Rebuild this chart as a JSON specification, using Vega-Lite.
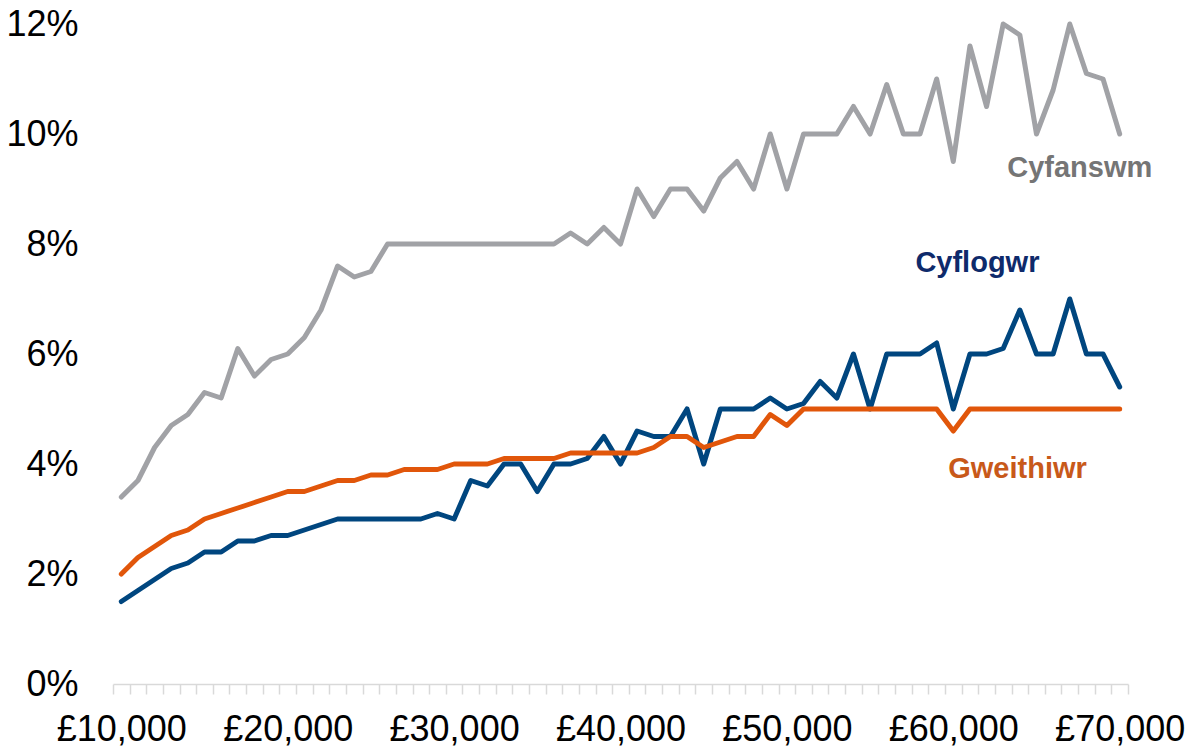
{
  "$schema": "https://vega.github.io/schema/vega-lite/v6.json",
  "autosize": {"type": "none"},
  "width": 1015,
  "height": 660,
  "padding": {"left": 113, "top": 24, "right": 67, "bottom": 63},
  "background": "white",
  "config": {
    "view": {"stroke": null},
    "font": "Liberation Sans",
    "axis": {"labelFont": "Liberation Sans", "labelColor": "#000000"}
  },
  "datasets": {
    "series": [
      {"s": 10000, "Cyfanswm": 3.4, "Cyflogwr": 1.5, "Gweithiwr": 2.0},
      {"s": 11000, "Cyfanswm": 3.7, "Cyflogwr": 1.7, "Gweithiwr": 2.3},
      {"s": 12000, "Cyfanswm": 4.3, "Cyflogwr": 1.9, "Gweithiwr": 2.5},
      {"s": 13000, "Cyfanswm": 4.7, "Cyflogwr": 2.1, "Gweithiwr": 2.7},
      {"s": 14000, "Cyfanswm": 4.9, "Cyflogwr": 2.2, "Gweithiwr": 2.8},
      {"s": 15000, "Cyfanswm": 5.3, "Cyflogwr": 2.4, "Gweithiwr": 3.0},
      {"s": 16000, "Cyfanswm": 5.2, "Cyflogwr": 2.4, "Gweithiwr": 3.1},
      {"s": 17000, "Cyfanswm": 6.1, "Cyflogwr": 2.6, "Gweithiwr": 3.2},
      {"s": 18000, "Cyfanswm": 5.6, "Cyflogwr": 2.6, "Gweithiwr": 3.3},
      {"s": 19000, "Cyfanswm": 5.9, "Cyflogwr": 2.7, "Gweithiwr": 3.4},
      {"s": 20000, "Cyfanswm": 6.0, "Cyflogwr": 2.7, "Gweithiwr": 3.5},
      {"s": 21000, "Cyfanswm": 6.3, "Cyflogwr": 2.8, "Gweithiwr": 3.5},
      {"s": 22000, "Cyfanswm": 6.8, "Cyflogwr": 2.9, "Gweithiwr": 3.6},
      {"s": 23000, "Cyfanswm": 7.6, "Cyflogwr": 3.0, "Gweithiwr": 3.7},
      {"s": 24000, "Cyfanswm": 7.4, "Cyflogwr": 3.0, "Gweithiwr": 3.7},
      {"s": 25000, "Cyfanswm": 7.5, "Cyflogwr": 3.0, "Gweithiwr": 3.8},
      {"s": 26000, "Cyfanswm": 8.0, "Cyflogwr": 3.0, "Gweithiwr": 3.8},
      {"s": 27000, "Cyfanswm": 8.0, "Cyflogwr": 3.0, "Gweithiwr": 3.9},
      {"s": 28000, "Cyfanswm": 8.0, "Cyflogwr": 3.0, "Gweithiwr": 3.9},
      {"s": 29000, "Cyfanswm": 8.0, "Cyflogwr": 3.1, "Gweithiwr": 3.9},
      {"s": 30000, "Cyfanswm": 8.0, "Cyflogwr": 3.0, "Gweithiwr": 4.0},
      {"s": 31000, "Cyfanswm": 8.0, "Cyflogwr": 3.7, "Gweithiwr": 4.0},
      {"s": 32000, "Cyfanswm": 8.0, "Cyflogwr": 3.6, "Gweithiwr": 4.0},
      {"s": 33000, "Cyfanswm": 8.0, "Cyflogwr": 4.0, "Gweithiwr": 4.1},
      {"s": 34000, "Cyfanswm": 8.0, "Cyflogwr": 4.0, "Gweithiwr": 4.1},
      {"s": 35000, "Cyfanswm": 8.0, "Cyflogwr": 3.5, "Gweithiwr": 4.1},
      {"s": 36000, "Cyfanswm": 8.0, "Cyflogwr": 4.0, "Gweithiwr": 4.1},
      {"s": 37000, "Cyfanswm": 8.2, "Cyflogwr": 4.0, "Gweithiwr": 4.2},
      {"s": 38000, "Cyfanswm": 8.0, "Cyflogwr": 4.1, "Gweithiwr": 4.2},
      {"s": 39000, "Cyfanswm": 8.3, "Cyflogwr": 4.5, "Gweithiwr": 4.2},
      {"s": 40000, "Cyfanswm": 8.0, "Cyflogwr": 4.0, "Gweithiwr": 4.2},
      {"s": 41000, "Cyfanswm": 9.0, "Cyflogwr": 4.6, "Gweithiwr": 4.2},
      {"s": 42000, "Cyfanswm": 8.5, "Cyflogwr": 4.5, "Gweithiwr": 4.3},
      {"s": 43000, "Cyfanswm": 9.0, "Cyflogwr": 4.5, "Gweithiwr": 4.5},
      {"s": 44000, "Cyfanswm": 9.0, "Cyflogwr": 5.0, "Gweithiwr": 4.5},
      {"s": 45000, "Cyfanswm": 8.6, "Cyflogwr": 4.0, "Gweithiwr": 4.3},
      {"s": 46000, "Cyfanswm": 9.2, "Cyflogwr": 5.0, "Gweithiwr": 4.4},
      {"s": 47000, "Cyfanswm": 9.5, "Cyflogwr": 5.0, "Gweithiwr": 4.5},
      {"s": 48000, "Cyfanswm": 9.0, "Cyflogwr": 5.0, "Gweithiwr": 4.5},
      {"s": 49000, "Cyfanswm": 10.0, "Cyflogwr": 5.2, "Gweithiwr": 4.9},
      {"s": 50000, "Cyfanswm": 9.0, "Cyflogwr": 5.0, "Gweithiwr": 4.7},
      {"s": 51000, "Cyfanswm": 10.0, "Cyflogwr": 5.1, "Gweithiwr": 5.0},
      {"s": 52000, "Cyfanswm": 10.0, "Cyflogwr": 5.5, "Gweithiwr": 5.0},
      {"s": 53000, "Cyfanswm": 10.0, "Cyflogwr": 5.2, "Gweithiwr": 5.0},
      {"s": 54000, "Cyfanswm": 10.5, "Cyflogwr": 6.0, "Gweithiwr": 5.0},
      {"s": 55000, "Cyfanswm": 10.0, "Cyflogwr": 5.0, "Gweithiwr": 5.0},
      {"s": 56000, "Cyfanswm": 10.9, "Cyflogwr": 6.0, "Gweithiwr": 5.0},
      {"s": 57000, "Cyfanswm": 10.0, "Cyflogwr": 6.0, "Gweithiwr": 5.0},
      {"s": 58000, "Cyfanswm": 10.0, "Cyflogwr": 6.0, "Gweithiwr": 5.0},
      {"s": 59000, "Cyfanswm": 11.0, "Cyflogwr": 6.2, "Gweithiwr": 5.0},
      {"s": 60000, "Cyfanswm": 9.5, "Cyflogwr": 5.0, "Gweithiwr": 4.6},
      {"s": 61000, "Cyfanswm": 11.6, "Cyflogwr": 6.0, "Gweithiwr": 5.0},
      {"s": 62000, "Cyfanswm": 10.5, "Cyflogwr": 6.0, "Gweithiwr": 5.0},
      {"s": 63000, "Cyfanswm": 12.0, "Cyflogwr": 6.1, "Gweithiwr": 5.0},
      {"s": 64000, "Cyfanswm": 11.8, "Cyflogwr": 6.8, "Gweithiwr": 5.0},
      {"s": 65000, "Cyfanswm": 10.0, "Cyflogwr": 6.0, "Gweithiwr": 5.0},
      {"s": 66000, "Cyfanswm": 10.8, "Cyflogwr": 6.0, "Gweithiwr": 5.0},
      {"s": 67000, "Cyfanswm": 12.0, "Cyflogwr": 7.0, "Gweithiwr": 5.0},
      {"s": 68000, "Cyfanswm": 11.1, "Cyflogwr": 6.0, "Gweithiwr": 5.0},
      {"s": 69000, "Cyfanswm": 11.0, "Cyflogwr": 6.0, "Gweithiwr": 5.0},
      {"s": 70000, "Cyfanswm": 10.0, "Cyflogwr": 5.4, "Gweithiwr": 5.0}
    ],
    "labels": [
      {"label": "Cyfanswm", "s": 67600, "value": 9.22},
      {"label": "Cyflogwr", "s": 61450, "value": 7.49},
      {"label": "Gweithiwr", "s": 63860, "value": 3.75}
    ]
  },
  "encoding": {
    "x": {
      "field": "s",
      "type": "quantitative",
      "title": null,
      "scale": {"domain": [9500, 70500], "nice": false, "zero": false},
      "axis": {
        "values": [9500, 10000, 10500, 11500, 12500, 13500, 14500, 15500, 16500, 17500, 18500, 19500, 20000, 20500, 21500, 22500, 23500, 24500, 25500, 26500, 27500, 28500, 29500, 30000, 30500, 31500, 32500, 33500, 34500, 35500, 36500, 37500, 38500, 39500, 40000, 40500, 41500, 42500, 43500, 44500, 45500, 46500, 47500, 48500, 49500, 50000, 50500, 51500, 52500, 53500, 54500, 55500, 56500, 57500, 58500, 59500, 60000, 60500, 61500, 62500, 63500, 64500, 65500, 66500, 67500, 68500, 69500, 70000, 70500],
        "labelExpr": "datum.value % 10000 === 0 ? '£' + format(datum.value, ',') : ''",
        "labelFontSize": 36,
        "labelPadding": 18,
        "labelFlush": false,
        "labelOverlap": false,
        "labelBound": false,
        "grid": false,
        "domainColor": "#d9d9d9",
        "domainWidth": 1.5,
        "tickColor": "#d9d9d9",
        "tickWidth": 1.5,
        "tickSize": 10,
        "tickOpacity": {"condition": {"test": "datum.value % 1000 === 0", "value": 0}, "value": 1}
      }
    },
    "y": {
      "field": "value",
      "type": "quantitative",
      "title": null,
      "scale": {"domain": [0, 12], "nice": false},
      "axis": {
        "values": [0, 2, 4, 6, 8, 10, 12],
        "labelExpr": "datum.value + '%'",
        "labelFontSize": 36,
        "labelPadding": 35,
        "domain": false,
        "ticks": false,
        "grid": false
      }
    }
  },
  "layer": [
    {
      "data": {"name": "series"},
      "transform": [{"fold": ["Cyfanswm", "Cyflogwr", "Gweithiwr"], "as": ["series", "value"]}],
      "mark": {"type": "line", "strokeWidth": 5, "strokeJoin": "round", "strokeCap": "round"},
      "encoding": {
        "color": {
          "field": "series",
          "type": "nominal",
          "legend": null,
          "scale": {"domain": ["Cyfanswm", "Cyflogwr", "Gweithiwr"], "range": ["#A1A2A6", "#00467F", "#E1560A"]}
        }
      }
    },
    {
      "data": {"name": "labels"},
      "mark": {"type": "text", "fontSize": 29, "fontWeight": "bold", "align": "center", "baseline": "alphabetic", "font": "Liberation Sans"},
      "encoding": {
        "text": {"field": "label", "type": "nominal"},
        "color": {
          "field": "label",
          "type": "nominal",
          "legend": null,
          "scale": {"domain": ["Cyfanswm", "Cyflogwr", "Gweithiwr"], "range": ["#757575", "#0E2A6B", "#C8591A"]}
        }
      }
    }
  ],
  "resolve": {"scale": {"color": "independent"}}
}
